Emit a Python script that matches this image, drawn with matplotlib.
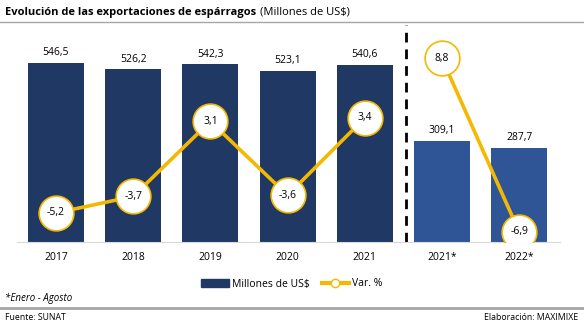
import matplotlib.pyplot as plt
import numpy as np

years = ["2017", "2018", "2019", "2020", "2021", "2021*", "2022*"]
exports = [546.5, 526.2, 542.3, 523.1, 540.6, 309.1, 287.7]
var_pct = [-5.2, -3.7, 3.1, -3.6, 3.4, 8.8, -6.9]

navy = "#1F3864"
blue = "#2F5597"
gold = "#F5B800"

plt.rcParams['font.family'] = ['Open Sans', 'DejaVu Sans']

fig = plt.figure(figsize=(5.84, 3.27), dpi=100)
ax = fig.add_axes([17 / 584, 85 / 327, 543 / 584, 219 / 327])
x = np.arange(len(years))
colors = [navy] * 5 + [blue] * 2
bars = ax.bar(x, exports, width=0.725, color=colors, zorder=2)
for xi, v in zip(x, exports):
    ax.text(xi, v + 14, f"{v:.1f}".replace(".", ","), ha="center", va="bottom", fontsize=7.5)
ax.set_xlim(-0.505, 6.53)
ax.set_ylim(0, 668)
ax.set_yticks([])
ax.set_xticks(x)
ax.set_xticklabels(years, fontsize=7.5)
ax.tick_params(axis="x", length=0, pad=7)
for s in ["top", "right", "left"]:
    ax.spines[s].set_visible(False)
ax.spines["bottom"].set_color("#D9D9D9")
ax.axvline(4.54, color="black", linestyle=(0, (3.5, 2.5)), linewidth=2, ymin=0, ymax=0.99, zorder=3)

ax2 = ax.twinx()
ax2.set_ylim(-7.83, 12)
ax2.axis("off")
# first five years and last two drawn as separate segments
ax2.plot(x[:5], var_pct[:5], color=gold, linewidth=2.6, zorder=4)
ax2.plot(x[5:], var_pct[5:], color=gold, linewidth=2.6, zorder=4)
ax2.plot(x, var_pct, linestyle="none", marker="o", markersize=25,
         markerfacecolor="white", markeredgecolor=gold, markeredgewidth=1.2, zorder=5)
for xi, v in zip(x, var_pct):
    ax2.text(xi, v, f"{v:.1f}".replace(".", ","), ha="center", va="center", fontsize=7.5, zorder=6)

# legend
handles = [plt.Rectangle((0, 0), 1, 1, color=navy),
           plt.Line2D([0], [0], color=gold, linewidth=3, marker="o", markersize=6,
                      markerfacecolor="white", markeredgecolor=gold)]
fig.legend(handles, ["Millones de US$", "Var. %"], loc="center", bbox_to_anchor=(0.5, 1 - 284 / 327),
           ncol=2, frameon=False, fontsize=7.5, handlelength=2.6, handleheight=0.8,
           columnspacing=1.2, handletextpad=0.3)

# title and lines
t1 = fig.text(5 / 584, 1 - 12 / 327, "Evolución de las exportaciones de espárragos", fontsize=8,
              fontweight="bold", va="center", ha="left")
fig.canvas.draw()
bb = t1.get_window_extent()
fig.text((bb.x1 + 4) / 584, 1 - 12 / 327, "(Millones de US$)", fontsize=8, va="center", ha="left")
fig.add_artist(plt.Line2D([0, 1], [1 - 22 / 327] * 2, color="#A6A6A6", linewidth=1))
fig.text(5 / 584, 1 - 298 / 327, "*Enero - Agosto", fontsize=7, style="italic", va="center")
fig.add_artist(plt.Line2D([0, 1], [1 - 308 / 327] * 2, color="#A6A6A6", linewidth=2))
fig.text(5 / 584, 1 - 318 / 327, "Fuente: SUNAT", fontsize=6.3, va="center")
fig.text(578 / 584, 1 - 318 / 327, "Elaboración: MAXIMIXE", fontsize=6.3, va="center", ha="right")

fig.savefig("out.png", dpi=100)
